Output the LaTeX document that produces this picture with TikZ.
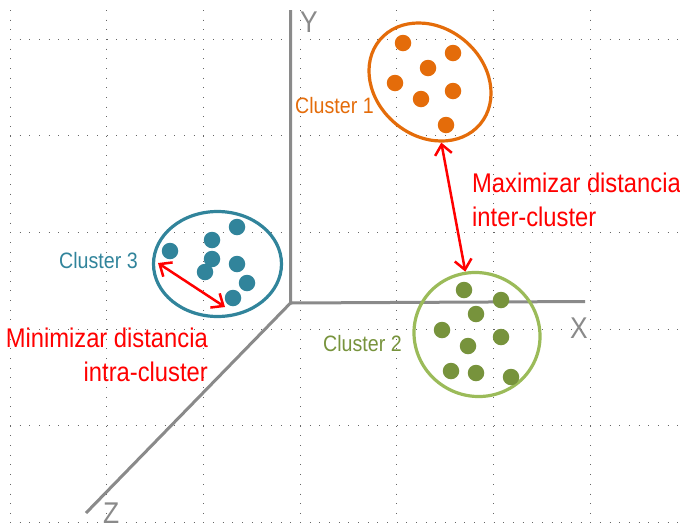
\documentclass[tikz,border=0pt]{standalone}
\usepackage{fontspec}
\setmainfont{Liberation Sans}[FakeStretch=0.88]
\usetikzlibrary{arrows.meta,shapes.geometric}

\definecolor{clusorange}{HTML}{E46C0A}
\definecolor{clusgreen}{HTML}{9BBB59}
\definecolor{dotgreen}{HTML}{77933C}
\definecolor{clusteal}{HTML}{31849B}
\definecolor{axisgray}{HTML}{8A8A8A}

\begin{document}
\begin{tikzpicture}[
    x=1pt, y=-1pt,
    gridln/.style={black!60, line width=1pt, dash pattern=on 1pt off 8.67pt},
    ax/.style={draw=axisgray, line width=3pt},
    axlab/.style={text=axisgray, inner sep=0pt, font=\fontsize{30}{30}\selectfont},
    clus/.style={draw, ellipse, line width=3.2pt, inner sep=0pt},
    pt/.style={circle, inner sep=0pt, minimum size=16.5pt},
    lab/.style={inner sep=0pt, font=\fontsize{22.3}{26}\selectfont},
    note/.style={text=red, inner sep=0pt, font=\fontsize{27}{34}\selectfont},
    dist/.style={{Straight Barb[length=10pt,width=17pt]}-{Straight Barb[length=10pt,width=17pt]},
                 line width=2.5pt, red},
  ]
  \useasboundingbox (0,0) rectangle (680,531);

  % ===== dotted grid =====
  \foreach \gx in {10,106.7,203.3,300,396.7,493.3,590}
    \draw[gridln] (\gx,10) -- (\gx,522);
  \foreach \gy in {39,135.7,232.3,329,425.7,522.4}
    \draw[gridln] (10,\gy) -- (680,\gy);

  % ===== axes =====
  \coordinate (O) at (290.5,303);
  \coordinate (ytop) at (290.5,10);
  \coordinate (xend) at (585,301.5);
  \coordinate (zend) at (86,513);
  \draw[ax] (ytop) -- (O) -- (xend);
  \draw[ax] (O) -- (zend);
  \node[axlab, anchor=base west] (ylab) at (300,32) {Y};
  \node[axlab, anchor=base west] (xlab) at (570,338) {X};
  \node[axlab, anchor=base west] (zlab) at (103,523) {Z};

  % ===== clusters =====
  \node[clus, draw=clusorange, minimum width=131pt, minimum height=108pt, rotate=-40] (c1) at (430,82) {};
  \node[clus, draw=clusgreen, minimum width=127pt, minimum height=123pt, rotate=-30] (c2) at (477,334.5) {};
  \node[clus, draw=clusteal, minimum width=128pt, minimum height=105pt] (c3) at (217.5,264) {};

  \foreach \px/\py [count=\i] in {403/43,453/53,428/68,395/83,453/91,421/99,446/125}
    \node[pt, fill=clusorange] (o\i) at (\px,\py) {};
  \foreach \px/\py [count=\i] in {464/290,501/300,476/314,442/330,501/337,468/346,451/371,476/373,511/377}
    \node[pt, fill=dotgreen] (g\i) at (\px,\py) {};
  \foreach \px/\py [count=\i] in {170/251,212/240,237/227,212/259,237/264,205/272,247/283,233/298}
    \node[pt, fill=clusteal] (t\i) at (\px,\py) {};

  \node[lab, text=clusorange, anchor=base west] (l1) at (295,113) {Cluster 1};
  \node[lab, text=dotgreen, anchor=base west] (l2) at (323,351) {Cluster 2};
  \node[lab, text=clusteal, anchor=base west] (l3) at (59,268) {Cluster 3};

  % ===== distances =====
  \draw[dist] (c1) -- (c2);
  \coordinate (a3) at (158,263);
  \coordinate (b3) at (225,307);
  \draw[dist] (a3) -- (b3);

  \node[note, anchor=north west, align=left] (inter) at (472,173)
    {Maximizar distancia\\inter-cluster};
  \node[note, anchor=north east, align=right] (intra) at (208,328)
    {Minimizar distancia\\intra-cluster};
\end{tikzpicture}
\end{document}
